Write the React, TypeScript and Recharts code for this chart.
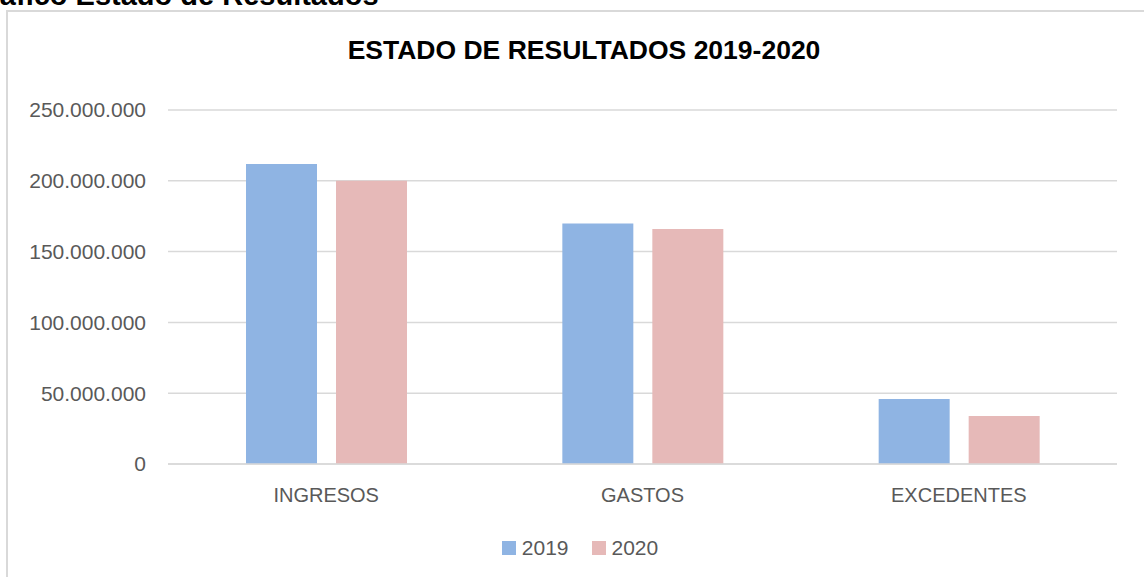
import React from 'react';
import { BarChart, Bar, XAxis, YAxis, CartesianGrid, Legend } from 'recharts';

const categories = ['INGRESOS', 'GASTOS', 'EXCEDENTES'];
const values2019 = [211800000, 169900000, 45900000];
const values2020 = [200000000, 165900000, 33900000];
const seriesNames = ['2019', '2020'];
const yTicks = [0, 50000000, 100000000, 150000000, 200000000, 250000000];
const chartTitle = 'ESTADO DE RESULTADOS 2019-2020';
const pageTitle = 'Gráfico Estado de Resultados';

const data = categories.map((c, i) => ({ name: c, v2019: values2019[i], v2020: values2020[i] }));

const FONT = '"Liberation Sans", Arial, sans-serif';
const GREY = '#595959';

const fmt = (v: number) => String(v).replace(/\B(?=(\d{3})+(?!\d))/g, '.');

const renderLegend = (props: any) => {
  const payload = props.payload || [];
  return (
    <div style={{ display: 'flex', justifyContent: 'center', alignItems: 'center', height: 20, fontFamily: FONT, fontSize: 21, color: GREY }}>
      {payload.map((e: any, i: number) => (
        <div key={i} style={{ display: 'flex', alignItems: 'center', marginLeft: i ? 23 : 0 }}>
          <span style={{ width: 14, height: 14, background: e.color, marginRight: 6, display: 'inline-block' }} />
          <span>{e.value}</span>
        </div>
      ))}
    </div>
  );
};

export default function App() {
  return (
    <div style={{ position: 'absolute', left: 0, top: 0, width: 1144, height: 577, overflow: 'hidden', background: '#fff' }}>
      <div style={{ position: 'absolute', left: -34, top: -19, fontFamily: FONT, fontWeight: 'bold', fontSize: 29, lineHeight: 1, whiteSpace: 'nowrap', color: '#000' }}>
        {pageTitle}
      </div>
      <div style={{ position: 'absolute', left: 6, top: 10, width: 1180, height: 620, border: '2px solid #d9d9d9', boxSizing: 'border-box' }} />
      <div style={{ position: 'absolute', left: 7, top: 36.8, width: 1154, textAlign: 'center', fontFamily: FONT, fontWeight: 'bold', fontSize: 26.5, lineHeight: 1, color: '#000', whiteSpace: 'nowrap' }}>
        {chartTitle}
      </div>
      <div style={{ position: 'absolute', left: 7, top: 11 }}>
        <BarChart width={1146} height={566} data={data} margin={{ top: 99, right: 36, bottom: 19, left: 0 }} barGap={19}>
          <CartesianGrid vertical={false} stroke="#d9d9d9" strokeWidth={1.5} />
          <XAxis
            dataKey="name"
            axisLine={{ stroke: '#d9d9d9', strokeWidth: 1.5 }}
            tickLine={false}
            tickSize={0}
            tickMargin={24}
            height={74}
            tick={{ fill: GREY, fontSize: 20, fontFamily: FONT }}
          />
          <YAxis
            width={161}
            domain={[0, 250000000]}
            ticks={yTicks}
            axisLine={false}
            tickLine={false}
            tickSize={0}
            tickMargin={22}
            tickFormatter={fmt}
            tick={{ fill: GREY, fontSize: 21, fontFamily: FONT }}
          />
          <Legend verticalAlign="bottom" content={renderLegend} wrapperStyle={{ left: 0, width: 1146 }} />
          <Bar dataKey="v2019" name={seriesNames[0]} fill="#8FB4E3" barSize={71} isAnimationActive={false} />
          <Bar dataKey="v2020" name={seriesNames[1]} fill="#E6B9B8" barSize={71} isAnimationActive={false} />
        </BarChart>
      </div>
    </div>
  );
}
